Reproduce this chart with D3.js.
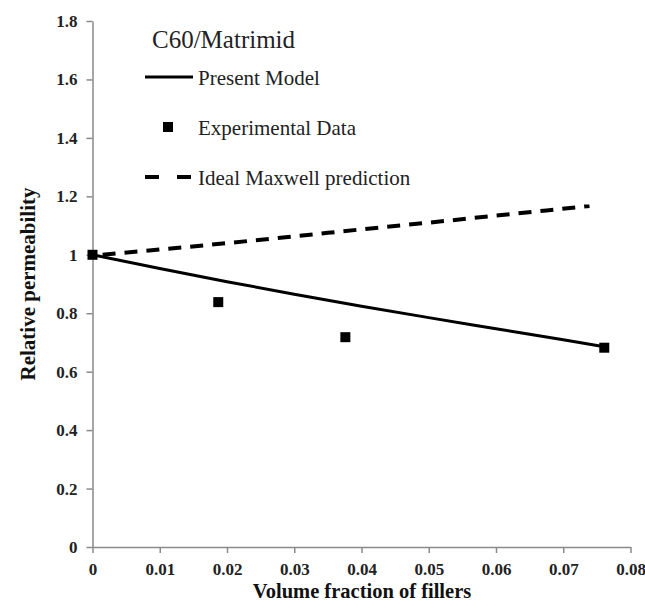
<!DOCTYPE html>
<meta charset="utf-8">
<style>
body { margin: 0; padding: 0; background: #fff; }
svg { display: block; }
.axis path, .axis line { stroke: #8a8a8a; stroke-width: 1.5px; }
</style>
<body>
<svg id="chart" width="645" height="612"></svg>
<script src="https://cdn.jsdelivr.net/npm/d3@7"></script>
<script>

// tick labels
var xTicks = [0, 0.01, 0.02, 0.03, 0.04, 0.05, 0.06, 0.07, 0.08];
var yTicks = [0, 0.2, 0.4, 0.6, 0.8, 1, 1.2, 1.4, 1.6, 1.8];

// experimental points
var expX = [0, 0.0187, 0.0376, 0.0761];
var expY = [1.0, 0.838, 0.718, 0.682];

// present model curve
var modelX = [0, 0.01, 0.02, 0.03, 0.04, 0.05, 0.06, 0.07, 0.0761];
var modelY = [1.0, 0.953, 0.908, 0.865, 0.824, 0.785, 0.747, 0.709, 0.685];

// ideal maxwell prediction
var maxX = [0.0015, 0.01, 0.02, 0.03, 0.04, 0.05, 0.06, 0.0739];
var maxY = [1.0, 1.018, 1.04, 1.063, 1.087, 1.11, 1.134, 1.167];

var serif = "'Liberation Serif', serif";
var svg = d3.select("#chart");

var x = d3.scaleLinear().domain([0, 0.08]).range([92.5, 630.5]);
var y = d3.scaleLinear().domain([0, 1.8]).range([547, 21]);

var fmtY = function(d) { return d3.format("")(+d.toFixed(1)); };

svg.append("g")
  .attr("class", "axis")
  .attr("transform", "translate(0,547)")
  .call(d3.axisBottom(x).tickValues(xTicks).tickSize(6).tickSizeOuter(0)
    .tickFormat(function(d) { return d === 0 ? "0" : d3.format(".2f")(d); }))
  .call(function(g) { g.selectAll(".tick text").attr("dy", 0).attr("y", 28); });

svg.append("g")
  .attr("class", "axis")
  .attr("transform", "translate(92.5,0)")
  .call(d3.axisLeft(y).tickValues(yTicks).tickSize(6).tickSizeOuter(0).tickFormat(fmtY))
  .call(function(g) { g.selectAll(".tick text").attr("x", -15); });

svg.selectAll(".domain").attr("stroke", "#8a8a8a");
svg.selectAll(".tick text")
  .style("font-weight", "bold").style("font-size", "17px").style("fill", "#222");

// axis titles
svg.append("text")
  .attr("x", 362).attr("y", 598)
  .attr("text-anchor", "middle")
  .style("font-weight", "bold").style("font-size", "20.5px").style("fill", "#111")
  .text("Volume fraction of fillers");

svg.append("text")
  .attr("transform", "translate(35,284) rotate(-90)")
  .attr("text-anchor", "middle")
  .style("font-weight", "bold").style("font-size", "21px").style("fill", "#111")
  .text("Relative permeability");

var line = d3.line()
  .x(function(d) { return x(d[0]); })
  .y(function(d) { return y(d[1]); })
  .curve(d3.curveMonotoneX);

svg.append("path")
  .datum(d3.zip(maxX, maxY))
  .attr("d", line)
  .attr("fill", "none")
  .attr("stroke", "#000")
  .attr("stroke-width", 4)
  .attr("stroke-dasharray", "13,9");

svg.append("path")
  .datum(d3.zip(modelX, modelY))
  .attr("d", line)
  .attr("fill", "none")
  .attr("stroke", "#000")
  .attr("stroke-width", 3);

svg.selectAll("rect.pt")
  .data(d3.zip(expX, expY))
  .enter().append("rect")
  .attr("class", "pt")
  .attr("x", function(d) { return x(d[0]) - 5; })
  .attr("y", function(d) { return y(d[1]) - 5; })
  .attr("width", 10).attr("height", 10)
  .attr("fill", "#000");

// legend
var lg = svg.append("g").style("font-size", "21px").style("fill", "#222");

lg.append("text").attr("x", 152).attr("y", 48).style("font-size", "25px").text("C60/Matrimid");

lg.append("line").attr("x1", 145).attr("x2", 193).attr("y1", 77).attr("y2", 77)
  .attr("stroke", "#000").attr("stroke-width", 3);
lg.append("text").attr("x", 198).attr("y", 85).text("Present Model");

lg.append("rect").attr("x", 163).attr("y", 122).attr("width", 10).attr("height", 10).attr("fill", "#000");
lg.append("text").attr("x", 198).attr("y", 135).text("Experimental Data");

lg.append("line").attr("x1", 145).attr("x2", 191).attr("y1", 177).attr("y2", 177)
  .attr("stroke", "#000").attr("stroke-width", 4).attr("stroke-dasharray", "14,18");
lg.append("text").attr("x", 198).attr("y", 185).text("Ideal Maxwell prediction");

svg.selectAll("text").style("font-family", serif);

</script>
</body>
